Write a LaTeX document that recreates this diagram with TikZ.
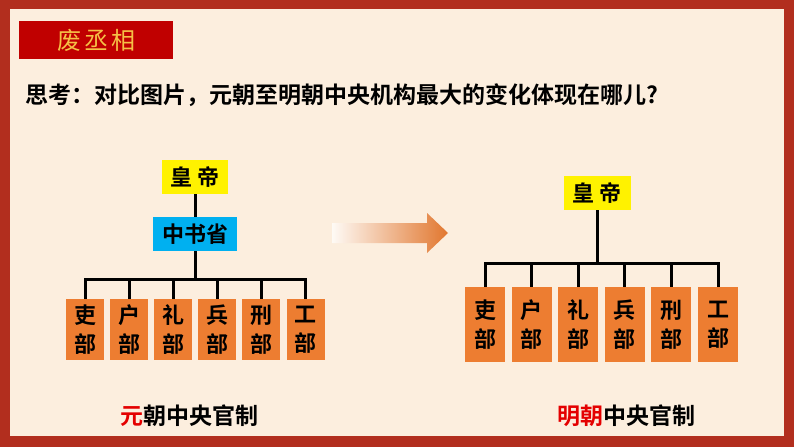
\documentclass[tikz,border=0pt]{standalone}
\usepackage{fontspec}
\setmainfont{Noto Sans CJK SC}[BoldFont={Noto Sans CJK SC Bold}]
\definecolor{framered}{RGB}{178,46,30}
\definecolor{cream}{RGB}{252,238,222}
\definecolor{titlered}{RGB}{192,0,0}
\definecolor{gold}{RGB}{245,192,70}
\definecolor{zsblue}{RGB}{0,176,240}
\definecolor{deptor}{RGB}{237,125,49}
\definecolor{capred}{RGB}{228,0,0}
\tikzset{
	chief/.style={fill=yellow, minimum width=66pt, minimum height=34pt, inner sep=0pt, font=\fontsize{22}{22}\selectfont\bfseries},
	dept/.style={fill=deptor, inner sep=0pt, align=center, font=\fontsize{22}{29}\selectfont\bfseries},
	link/.style={line width=3pt},
}
\begin{document}
\begin{tikzpicture}[x=1pt, y=-1pt]
	\useasboundingbox (0,0) rectangle (794,447);
	\fill[framered] (0,0) rectangle (794,447);
	\fill[cream] (10,9) rectangle (784,436);
	
	\node[fill=titlered, minimum width=154pt, minimum height=38pt, inner sep=0pt, text=gold, font=\fontsize{24}{24}\selectfont] (title) at (96,40) {废\hspace{3pt}丞\hspace{3pt}相};
	\node[anchor=west, inner sep=0pt, font=\fontsize{23}{23}\selectfont\bfseries] (ask) at (25,95) {思考：对比图片，元朝至明朝中央机构最大的变化体现在哪儿?};
	
	% yuan
	\node[chief] (hd1) at (195,177) {皇 帝};
	\node[fill=zsblue, minimum width=84pt, minimum height=34pt, inner sep=0pt, font=\fontsize{22}{22}\selectfont\bfseries] (zs) at (195,234) {中书省};
	\coordinate (bus1) at (195,279.5);
	\node[dept, minimum width=38pt, minimum height=61pt] (li1) at (85,329.5) {吏\\部};
	\node[dept, minimum width=38pt, minimum height=61pt] (hu1) at (129.1,329.5) {户\\部};
	\node[dept, minimum width=38pt, minimum height=61pt] (lj1) at (173.2,329.5) {礼\\部};
	\node[dept, minimum width=38pt, minimum height=61pt] (bing1) at (217.3,329.5) {兵\\部};
	\node[dept, minimum width=38pt, minimum height=61pt] (xing1) at (261.4,329.5) {刑\\部};
	\node[dept, minimum width=38pt, minimum height=61pt] (gong1) at (305.5,329.5) {工\\部};
	\draw[link] (hd1) -- (zs);
	\draw[link] (zs.south) -- (bus1) -| (li1.north);
	\draw[link] (zs.south) -- (bus1) -| (hu1.north);
	\draw[link] (zs.south) -- (bus1) -| (lj1.north);
	\draw[link] (zs.south) -- (bus1) -| (bing1.north);
	\draw[link] (zs.south) -- (bus1) -| (xing1.north);
	\draw[link] (zs.south) -- (bus1) -| (gong1.north);
	
	% arrow
	\shade[left color=cream!30!white, right color=deptor!95!black] (332,223) -- (427,223) -- (427,213) -- (448,233) -- (427,253) -- (427,243) -- (332,243) -- cycle;
	
	% ming
	\node[chief, minimum width=67pt] (hd2) at (597,193) {皇 帝};
	\coordinate (bus2) at (597,263);
	\node[dept, minimum width=40pt, minimum height=75pt] (li2) at (485,324.5) {吏\\部};
	\node[dept, minimum width=40pt, minimum height=75pt] (hu2) at (531.6,324.5) {户\\部};
	\node[dept, minimum width=40pt, minimum height=75pt] (lj2) at (578.2,324.5) {礼\\部};
	\node[dept, minimum width=40pt, minimum height=75pt] (bing2) at (624.8,324.5) {兵\\部};
	\node[dept, minimum width=40pt, minimum height=75pt] (xing2) at (671.4,324.5) {刑\\部};
	\node[dept, minimum width=40pt, minimum height=75pt] (gong2) at (718,324.5) {工\\部};
	\draw[link] (hd2.south) -- (bus2) -| (li2.north);
	\draw[link] (hd2.south) -- (bus2) -| (hu2.north);
	\draw[link] (hd2.south) -- (bus2) -| (lj2.north);
	\draw[link] (hd2.south) -- (bus2) -| (bing2.north);
	\draw[link] (hd2.south) -- (bus2) -| (xing2.north);
	\draw[link] (hd2.south) -- (bus2) -| (gong2.north);
	
	\node[font=\fontsize{23}{23}\selectfont\bfseries] (cap1) at (189,416) {{\color{capred}元}朝中央官制};
	\node[font=\fontsize{23}{23}\selectfont\bfseries] (cap2) at (626,416) {{\color{capred}明朝}中央官制};
\end{tikzpicture}
\end{document}
